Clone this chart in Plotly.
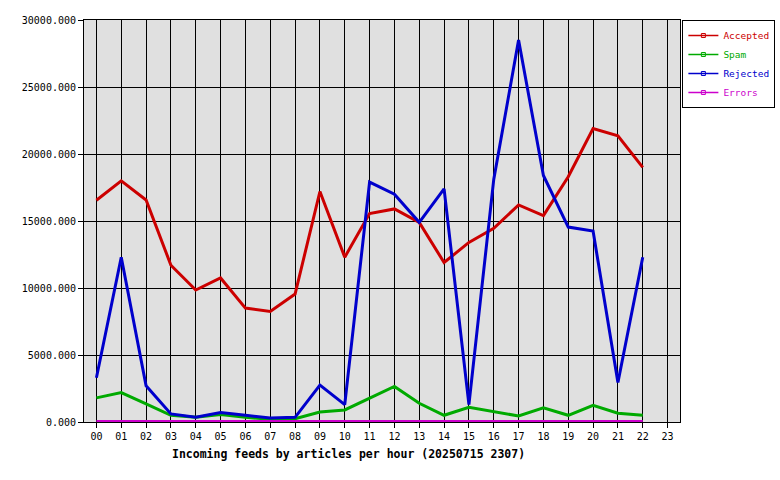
import plotly.graph_objects as go

hours = ["00","01","02","03","04","05","06","07","08","09","10","11",
         "12","13","14","15","16","17","18","19","20","21","22","23"]
accepted = [16550, 18000, 16570, 11700, 9850, 10750, 8500, 8250, 9550, 17200, 12300, 15550,
            15900, 14900, 11900, 13400, 14450, 16200, 15400, 18300, 21900, 21350, 19000]
spam = [1800, 2200, 1350, 500, 350, 550, 350, 200, 250, 750, 900, 1800,
        2650, 1400, 500, 1100, 750, 450, 1050, 500, 1250, 650, 500]
rejected = [3300, 12300, 2700, 600, 350, 700, 500, 300, 350, 2750, 1300, 17900,
            17000, 14900, 17400, 1300, 18100, 28500, 18400, 14550, 14250, 2950, 12300]
errors = [40] * 23

series = [
    ("Accepted", accepted, "#cc0000"),
    ("Spam", spam, "#00aa00"),
    ("Rejected", rejected, "#0000cc"),
    ("Errors", errors, "#cc00cc"),
]

FONT = "DejaVu Sans Mono"
fig = go.Figure()
for name, vals, col in series:
    xs = list(range(len(vals)))
    fig.add_trace(go.Scatter(
        x=xs, y=vals, mode="lines",
        line=dict(color=col, width=3),
        showlegend=False, hoverinfo="skip",
    ))
    # legend entry
    fig.add_trace(go.Scatter(
        x=[None], y=[None], mode="lines+markers",
        line=dict(color=col, width=1.5),
        marker=dict(symbol="square-open", size=4, color=col),
        name=f"<span style='color:{col}'>{name}</span>",
    ))

fig.update_layout(
    width=780, height=480,
    margin=dict(l=84, r=100, t=20, b=58, autoexpand=False),
    paper_bgcolor="white",
    plot_bgcolor="#e0e0e0",
    font=dict(family=FONT, size=10, color="black"),
    legend=dict(
        x=1.004, xanchor="left", xref="paper", y=1.0, yanchor="top",
        bgcolor="white", bordercolor="black", borderwidth=1,
        font=dict(family=FONT, size=9.5),
        itemwidth=30, tracegroupgap=0,
    ),
    xaxis=dict(
        range=[-0.5, 23.5],
        tickmode="array", tickvals=list(range(24)), ticktext=hours,
        showgrid=True, gridcolor="black", gridwidth=1,
        showline=True, linecolor="black", linewidth=1, mirror=True,
        ticks="outside", ticklen=5, tickcolor="black",
        zeroline=False,
    ),
    yaxis=dict(
        range=[0, 30000], tickmode="linear", tick0=0, dtick=5000,
        tickformat=".3f",
        showgrid=True, gridcolor="black", gridwidth=1,
        showline=True, linecolor="black", linewidth=1, mirror=True,
        ticks="outside", ticklen=5, tickcolor="black",
        zeroline=False,
    ),
    annotations=[dict(
        text="<b>Incoming feeds by articles per hour (20250715 2307)</b>",
        xref="paper", yref="paper", x=0.443, y=-0.057, xanchor="center", yanchor="top",
        showarrow=False, font=dict(family=FONT, size=11.5),
    )],
)

fig.write_html("out.html", config={"displayModeBar": False},
               post_script="document.body.style.margin='0';")
